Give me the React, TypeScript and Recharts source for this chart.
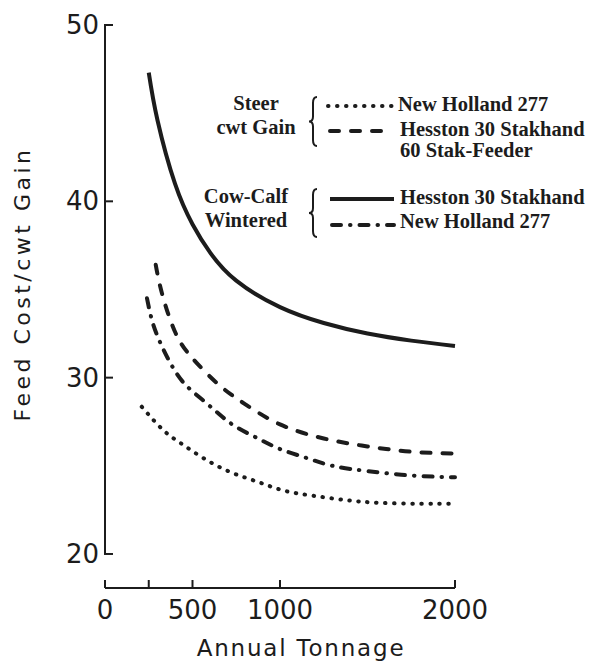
import React from 'react';
import { LineChart, Line, XAxis, YAxis, ReferenceLine } from 'recharts';

// axis ticks
const xTicks = [0, 250, 500, 1000, 2000];
const xTickLabels = ['0', '', '500', '1000', '2000'];
const yTicks = [20, 30, 40, 50];

// Steer cwt gain - New Holland 277 (dotted)
const steerNewHollandX = [210, 330, 430, 560, 715, 870, 1020, 1190, 1380, 1570, 1800, 2000];
const steerNewHollandY = [28.35, 27.05, 26.3, 25.45, 24.65, 24.1, 23.6, 23.3, 23.05, 22.9, 22.85, 22.85];

// Steer cwt gain - Hesston 30 Stakhand / 60 Stak-Feeder (dashed)
const steerHesstonX = [290, 325, 400, 500, 650, 800, 1000, 1250, 1500, 1750, 2000];
const steerHesstonY = [36.4, 34.8, 32.6, 31.1, 29.6, 28.5, 27.35, 26.55, 26.1, 25.8, 25.7];

// Cow-calf wintered - Hesston 30 Stakhand (solid)
const cowHesstonX = [250, 300, 400, 500, 600, 750, 1000, 1250, 1500, 1750, 2000];
const cowHesstonY = [47.3, 44.6, 41.0, 38.7, 37.1, 35.5, 34.0, 33.1, 32.5, 32.1, 31.8];

// Cow-calf wintered - New Holland 277 (dash-dot)
const cowNewHollandX = [240, 270, 315, 375, 450, 550, 650, 750, 875, 1000, 1150, 1300, 1500, 1750, 2000];
const cowNewHollandY = [34.5, 33.2, 32.0, 30.8, 29.7, 28.8, 27.95, 27.2, 26.55, 25.95, 25.45, 25.0, 24.7, 24.45, 24.35];

const toPoints = (xs: number[], ys: number[]) => xs.map((x, i) => ({ tons: x, cost: ys[i] }));

const INK = '#1c1c1c';
const SANS = '"DejaVu Sans", sans-serif';
const SERIF = '"Liberation Serif", serif';

const DOTTED = '0.5 8.5';
const DASHED = '9 12';
const DASHDOT = '9 9 0.5 9';

const XTick = ({ x, y, payload }: any) => {
  const label = xTickLabels[xTicks.indexOf(payload.value)];
  return (
    <g>
      <line x1={x} x2={x} y1={y} y2={y - 8} stroke={INK} strokeWidth={2} />
      <text x={x} y={y + 31} textAnchor="middle" fontFamily={SANS} fontSize={26} fill={INK}>
        {label}
      </text>
    </g>
  );
};

const YTick = ({ x, y, payload }: any) => (
  <g>
    <line x1={x - 1} x2={x + 8} y1={y} y2={y} stroke={INK} strokeWidth={2} />
    <text x={x - 6} y={y + 9} textAnchor="end" fontFamily={SANS} fontSize={26} fill={INK}>
      {payload.value}
    </text>
  </g>
);

const Brace = ({ x, y1, y2 }: { x: number; y1: number; y2: number }) => {
  const mid = (y1 + y2) / 2;
  const d = `M ${x + 4} ${y1} Q ${x} ${y1} ${x} ${y1 + 6} L ${x} ${mid - 5} Q ${x} ${mid} ${x - 4} ${mid} Q ${x} ${mid} ${x} ${mid + 5} L ${x} ${y2 - 6} Q ${x} ${y2} ${x + 4} ${y2}`;
  return <path d={d} fill="none" stroke={INK} strokeWidth={2} />;
};

const legendText = { fontFamily: SERIF, fontWeight: 700, fontSize: 20.5, fill: INK } as const;

const Overlay = () => (
  <svg width={589} height={664} style={{ position: 'absolute', top: 0, left: 0, pointerEvents: 'none' }}>
    <text
      transform="translate(30 284) rotate(-90)"
      textAnchor="middle"
      fontFamily={SANS}
      fontSize={22}
      letterSpacing={3.5}
      fill={INK}
    >
      Feed Cost/cwt Gain
    </text>
    <text x={301} y={656} textAnchor="middle" fontFamily={SANS} fontSize={23} letterSpacing={1.8} fill={INK}>
      Annual Tonnage
    </text>

    {/* Steer group */}
    <text x={256} y={110} textAnchor="middle" {...legendText}>Steer</text>
    <text x={256} y={134} textAnchor="middle" {...legendText}>cwt Gain</text>
    <Brace x={313} y1={97} y2={146} />
    <line x1={328} x2={393} y1={106} y2={106} stroke={INK} strokeWidth={4} strokeDasharray={DOTTED} strokeLinecap="round" />
    <line x1={330} x2={393} y1={131} y2={131} stroke={INK} strokeWidth={4} strokeDasharray={DASHED} strokeLinecap="round" />
    <text x={398} y={111} {...legendText}>New Holland 277</text>
    <text x={400} y={136} {...legendText}>Hesston 30 Stakhand</text>
    <text x={400} y={157} {...legendText}>60 Stak-Feeder</text>

    {/* Cow-calf group */}
    <text x={246} y={203} textAnchor="middle" {...legendText}>Cow-Calf</text>
    <text x={246} y={227} textAnchor="middle" {...legendText}>Wintered</text>
    <Brace x={313} y1={189} y2={237} />
    <line x1={330} x2={394} y1={199} y2={199} stroke={INK} strokeWidth={4} />
    <line x1={332} x2={394} y1={225} y2={225} stroke={INK} strokeWidth={4} strokeDasharray={DASHDOT} strokeLinecap="round" />
    <text x={400} y={204} {...legendText}>Hesston 30 Stakhand</text>
    <text x={400} y={228} {...legendText}>New Holland 277</text>
  </svg>
);

export default function App() {
  return (
    <div style={{ position: 'absolute', top: 0, left: 0, width: 589, height: 664, background: '#fff' }}>
      <LineChart width={589} height={664} margin={{ top: 25, right: 134, bottom: 0, left: 45 }}>
        <XAxis
          type="number"
          dataKey="tons"
          domain={[0, 2000]}
          ticks={xTicks}
          height={76}
          axisLine={{ stroke: INK, strokeWidth: 2 }}
          tickLine={false}
          tickSize={0}
          tickMargin={0}
          tick={<XTick />}
          allowDuplicatedCategory={false}
        />
        <YAxis
          type="number"
          domain={[18.07, 50]}
          ticks={yTicks}
          width={60}
          axisLine={false}
          tickLine={false}
          tickSize={0}
          tickMargin={0}
          tick={<YTick />}
          allowDataOverflow
        />
        <ReferenceLine
          segment={[{ x: 0, y: 20 }, { x: 0, y: 50 }]}
          stroke={INK}
          strokeWidth={2}
          ifOverflow="visible"
        />
        <Line
          data={toPoints(steerNewHollandX, steerNewHollandY)}
          dataKey="cost"
          type="natural"
          stroke={INK}
          strokeWidth={4}
          strokeDasharray={DOTTED}
          strokeLinecap="round"
          dot={false}
          isAnimationActive={false}
        />
        <Line
          data={toPoints(steerHesstonX, steerHesstonY)}
          dataKey="cost"
          type="natural"
          stroke={INK}
          strokeWidth={4}
          strokeDasharray={DASHED}
          strokeLinecap="round"
          dot={false}
          isAnimationActive={false}
        />
        <Line
          data={toPoints(cowHesstonX, cowHesstonY)}
          dataKey="cost"
          type="natural"
          stroke={INK}
          strokeWidth={4}
          dot={false}
          isAnimationActive={false}
        />
        <Line
          data={toPoints(cowNewHollandX, cowNewHollandY)}
          dataKey="cost"
          type="natural"
          stroke={INK}
          strokeWidth={4}
          strokeDasharray={DASHDOT}
          strokeLinecap="round"
          dot={false}
          isAnimationActive={false}
        />
      </LineChart>
      <Overlay />
    </div>
  );
}
